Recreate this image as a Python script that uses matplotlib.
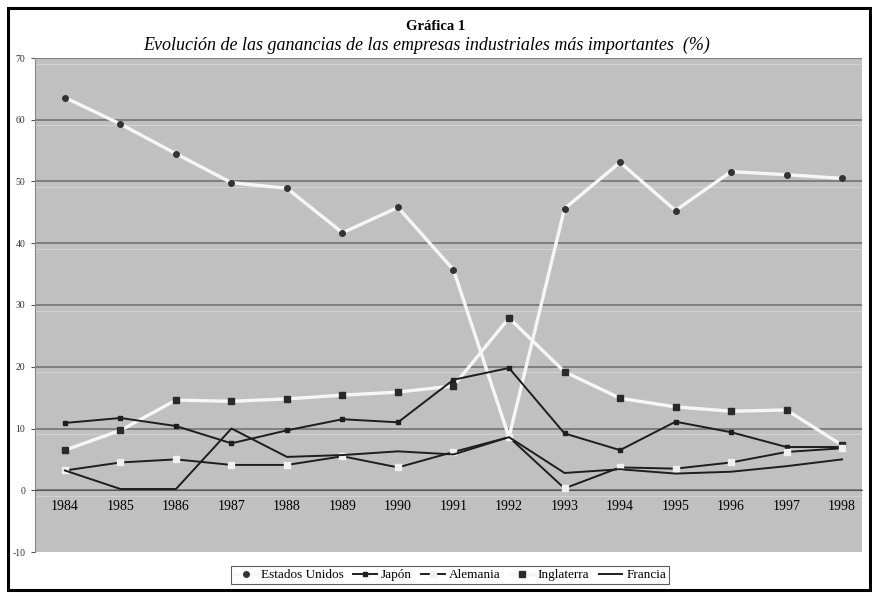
import matplotlib.pyplot as plt
from matplotlib.patches import Rectangle

years = ["1984", "1985", "1986", "1987", "1988", "1989", "1990", "1991",
         "1992", "1993", "1994", "1995", "1996", "1997", "1998"]

estados_unidos = [63.6, 59.3, 54.5, 49.8, 48.9, 41.7, 45.8, 35.7,
                  8.6, 45.6, 53.1, 45.3, 51.6, 51.1, 50.5]
japon = [10.9, 11.7, 10.4, 7.6, 9.7, 11.5, 11.0, 17.9,
         19.8, 9.2, 6.5, 11.1, 9.4, 7.0, 7.0]
alemania = [3.2, 4.5, 5.0, 4.1, 4.1, 5.5, 3.7, 6.2,
            8.6, 0.3, 3.7, 3.5, 4.5, 6.2, 6.8]
inglaterra = [6.5, 9.7, 14.6, 14.4, 14.8, 15.4, 15.9, 16.9,
              27.9, 19.2, 14.9, 13.5, 12.8, 13.0, 7.3]
francia = [3.2, 0.2, 0.2, 10.0, 5.4, 5.7, 6.3, 5.8,
           8.6, 2.8, 3.4, 2.7, 3.0, 3.9, 5.0]

y_ticks = [-10, 0, 10, 20, 30, 40, 50, 60, 70]

plt.rcParams["font.family"] = ["Liberation Serif", "DejaVu Serif"]

fig = plt.figure(figsize=(8.72, 5.96), dpi=100)
fig.patch.set_facecolor("white")
# outer chart frame
fig.patches.append(Rectangle((8 / 872, 6 / 596), 862 / 872, 582 / 596,
                             transform=fig.transFigure, fill=False,
                             edgecolor="black", linewidth=2.2))

ax = fig.add_axes([35 / 872, 44 / 596, 827 / 872, 494 / 596])
ax.set_facecolor("#c0c0c0")

x = list(range(len(years)))

for v in y_ticks[1:]:
    ax.axhline(v, color="#7a7a7a", linewidth=1.3, zorder=1)
    ax.axhline(v - 0.9, color="#d2d2d2", linewidth=0.8, zorder=1)

ax.plot(x, estados_unidos, color="#f6f6f6", linewidth=2.4, marker="o",
        markersize=4, markerfacecolor="#333333", markeredgecolor="#333333",
        label="Estados Unidos", zorder=3)
ax.plot(x, japon, color="#1e1e1e", linewidth=1.4, marker="s",
        markersize=3.5, markerfacecolor="#1e1e1e", markeredgecolor="#1e1e1e",
        label="Japón", zorder=4)
ax.plot(x, alemania, color="#1e1e1e", linewidth=1.4, marker="s",
        markersize=4, markerfacecolor="#f0f0f0", markeredgecolor="#f0f0f0",
        label="Alemania", zorder=4)
ax.plot(x, inglaterra, color="#f6f6f6", linewidth=2.4, marker="s",
        markersize=5, markerfacecolor="#2a2a2a", markeredgecolor="#2a2a2a",
        label="Inglaterra", zorder=3)
ax.plot(x, francia, color="#1e1e1e", linewidth=1.4,
        label="Francia", zorder=4)

ax.set_xlim(-0.54, 14.36)
ax.set_ylim(-10, 70)
ax.set_yticks(y_ticks)
ax.set_yticklabels([str(v) for v in y_ticks], fontsize=7, color="#333333")
ax.set_xticks(x)
ax.set_xticklabels(years, fontsize=6.5, color="#333333")

ax.spines["bottom"].set_position(("data", 0))
ax.spines["bottom"].set_color("#555555")
ax.spines["top"].set_visible(False)
ax.spines["right"].set_visible(False)
ax.spines["left"].set_color("#888888")
ax.tick_params(axis="x", length=0, pad=7)
ax.tick_params(axis="y", length=3, color="#555555", pad=4)

fig.text(0.5, 1 - 27 / 596, "Gráfica 1", ha="center", va="center",
         fontsize=10.5, fontweight="bold")
fig.text(427 / 872, 1 - 45 / 596,
         "Evolución de las ganancias de las empresas industriales más importantes  (%)",
         ha="center", va="center", fontsize=13, style="italic")

leg = fig.legend(loc="center", bbox_to_anchor=(450 / 872, 1 - 575 / 596),
                 ncol=5, fontsize=9.5, frameon=True, fancybox=False,
                 handlelength=1.8, handletextpad=0.3, columnspacing=0.7,
                 borderpad=0.2)
leg.get_frame().set_edgecolor("#333333")
leg.get_frame().set_linewidth(0.8)

fig.savefig("out.png", dpi=100)
